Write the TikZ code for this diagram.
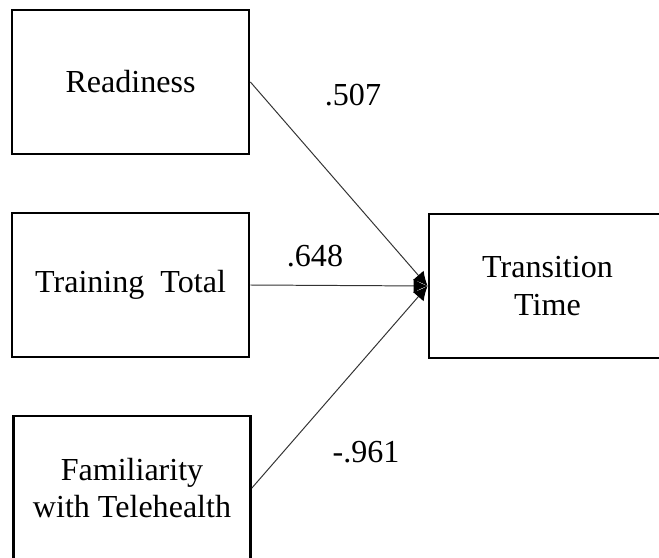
\documentclass[tikz,border=0pt]{standalone}
\usepackage{fontspec}
\setmainfont{Liberation Serif}
\usetikzlibrary{arrows.meta}

\tikzset{
  var/.style={draw, line width=1.8pt, minimum width=5.93cm, minimum height=3.6cm,
    inner sep=0pt, align=center, font=\fontsize{22.8}{26.8}\selectfont},
  link/.style={black!80, line width=0.7pt, -{Latex[black,length=10pt,width=10pt]}},
  coef/.style={font=\fontsize{22.8}{26.8}\selectfont}
}

\begin{document}
\begin{tikzpicture}[x=0.025cm, y=-0.025cm]
  \useasboundingbox (0,0) rectangle (659,558);
  \clip (0,0) rectangle (659,558);

  % Predictors
  \node[var] (ready) at (130.5,82) {Readiness};
  \node[var] (train) at (130.5,285) {Training\ \ Total};
  \node[var] (famil) at (132,488) {Familiarity\\with Telehealth};

  % Outcome
  \node[var] (trans) at (547.5,286) {Transition\\Time};

  % Paths
  \draw[link] (ready.east) -- (trans.west);
  \draw[link] (train.east) -- (trans.west);
  \draw[link] (famil.east) -- (trans.west);

  % Coefficients
  \node[coef] (c1) at (353,95) {.507};
  \node[coef] (c2) at (315,256) {.648};
  \node[coef] (c3) at (366,452) {-.961};
\end{tikzpicture}
\end{document}
